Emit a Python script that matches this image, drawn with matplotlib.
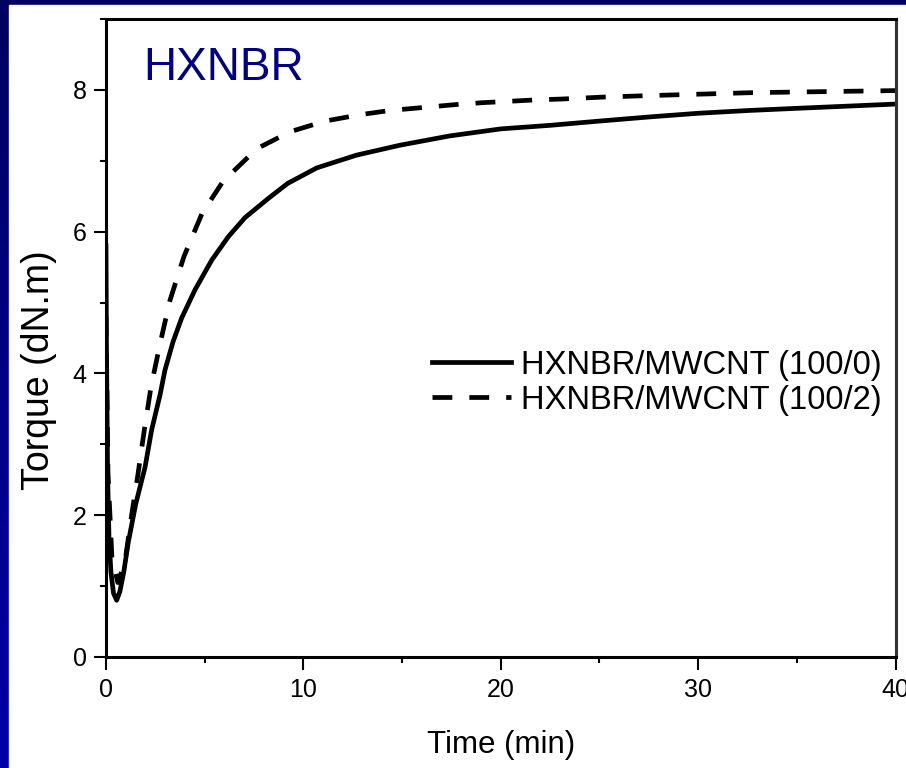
import numpy as np
import matplotlib
matplotlib.use('Agg')
from matplotlib import pyplot as plt
from matplotlib.patches import Rectangle
from matplotlib.ticker import MultipleLocator

plt.rcParams['font.family'] = ['Liberation Sans', 'DejaVu Sans']

# torque curves
t_100_0 = [0, 0.02, 0.08, 0.15, 0.25, 0.38, 0.54, 0.7, 0.9, 1.13, 1.5, 1.98,
           2.31, 2.74, 2.99, 3.4, 3.83, 4.51, 5.36, 6.2, 7.05, 8.23, 9.2,
           10.68, 12.7, 14.9, 17.4, 20.0, 22.5, 25.0, 27.6, 30.0, 32.6, 35.0,
           37.5, 40.0]
T_100_0 = [5.8, 4.5, 2.6, 1.7, 1.2, 0.9, 0.80, 0.92, 1.2, 1.62, 2.15, 2.68,
           3.2, 3.7, 4.05, 4.45, 4.78, 5.18, 5.6, 5.93, 6.2, 6.47, 6.68,
           6.9, 7.08, 7.22, 7.35, 7.45, 7.5, 7.56, 7.62, 7.67, 7.71, 7.74,
           7.77, 7.8]

t_100_2 = [0, 0.1, 0.3, 0.6, 0.96, 1.27, 1.61, 1.94, 2.28, 2.74, 3.24, 3.95,
           4.87, 5.93, 7.64, 9.33, 11.1, 12.87, 14.4, 16.0, 17.6, 19.1, 20.5,
           21.8, 23.0, 25.3, 27.6, 30.1, 32.6, 35.0, 37.5, 40.0]
T_100_2 = [4.8, 2.6, 1.4, 1.05, 1.34, 1.95, 2.56, 3.2, 3.81, 4.42, 5.03, 5.65,
           6.26, 6.71, 7.17, 7.41, 7.56, 7.65, 7.71, 7.75, 7.79, 7.82, 7.84,
           7.86, 7.87, 7.9, 7.92, 7.94, 7.96, 7.97, 7.98, 7.99]

labels = ['HXNBR/MWCNT (100/0)', 'HXNBR/MWCNT (100/2)']

fig = plt.figure(figsize=(9.06, 7.68), dpi=100)

# slide background: blue gradient + white sheet
bg = fig.add_axes([0, 0, 1, 1], zorder=-10)
grad = np.linspace(0, 1, 256).reshape(-1, 1)
cmap = matplotlib.colors.LinearSegmentedColormap.from_list('slide', ['#000060', '#0000a8'])
bg.imshow(grad, aspect='auto', cmap=cmap, extent=[0, 1, 0, 1], origin='upper')
bg.add_patch(Rectangle((9 / 906, 0), 1, 1 - 5 / 768, color='white'))
bg.set_xlim(0, 1)
bg.set_ylim(0, 1)
bg.axis('off')

ax = fig.add_axes([106 / 906, 1 - 657 / 768, 789.5 / 906, 638 / 768])
ax.patch.set_alpha(0)

lw = 3.4
ax.plot(t_100_0, T_100_0, color='black', lw=lw, label=labels[0])
ax.plot(t_100_2, T_100_2, color='black', lw=lw, linestyle=(0, (4.2, 3.6)),
        label=labels[1])

ax.set_xlim(0, 40)
ax.set_ylim(0, 9)
ax.xaxis.set_major_locator(MultipleLocator(10))
ax.xaxis.set_minor_locator(MultipleLocator(5))
ax.yaxis.set_major_locator(MultipleLocator(2))
ax.yaxis.set_minor_locator(MultipleLocator(1))
ax.tick_params(which='major', direction='out', length=9, width=1.5,
               labelsize=18, pad=5)
ax.tick_params(which='minor', direction='out', length=4.5, width=1.5)
ax.tick_params(axis='x', which='major', pad=6)
for s in ax.spines.values():
    s.set_linewidth(2.2)
ax.spines['right'].set_color('#333333')

ax.set_xlabel('Time (min)', fontsize=22.5, labelpad=20)
ax.set_ylabel('Torque (dN.m)', fontsize=27)
ax.yaxis.set_label_coords(-0.062, 0.45)

ax.text(0.047, 0.904, 'HXNBR', transform=ax.transAxes, fontsize=33,
        color='#000080', va='baseline', ha='left')

ax.legend(loc='center left', bbox_to_anchor=(0.413, 0.43), frameon=False,
          fontsize=23.6, handlelength=2.4, handletextpad=0.3,
          labelspacing=0.12, borderpad=0, borderaxespad=0)

fig.savefig('out.png', dpi=100)
